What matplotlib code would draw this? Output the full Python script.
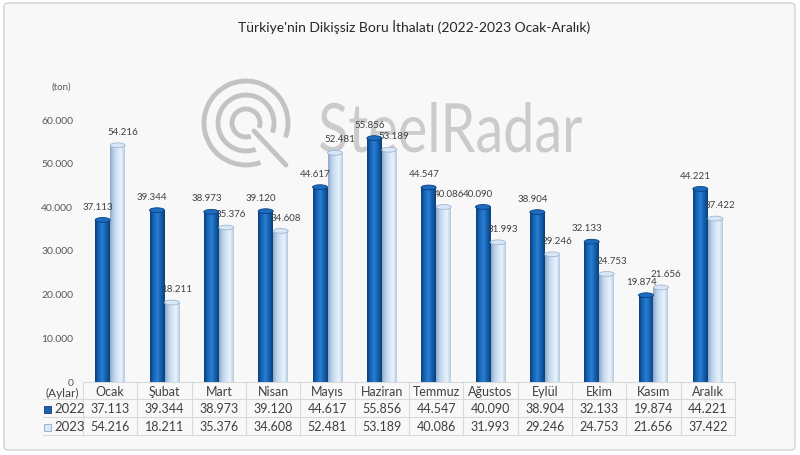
import numpy as np
import matplotlib
matplotlib.use("Agg")
import matplotlib.pyplot as plt
from matplotlib.colors import LinearSegmentedColormap
from matplotlib.patches import Ellipse, Arc, PathPatch, FancyBboxPatch, Rectangle
from matplotlib.textpath import TextPath
from matplotlib.font_manager import FontProperties
from matplotlib.transforms import Affine2D

plt.rcParams["font.family"] = ["Lato", "DejaVu Sans"]

# ----------------------------------------------------------------- data ---
TITLE = "Türkiye'nin Dikişsiz Boru İthalatı (2022-2023 Ocak-Aralık)"
MONTHS = ["Ocak", "Şubat", "Mart", "Nisan", "Mayıs", "Haziran",
          "Temmuz", "Ağustos", "Eylül", "Ekim", "Kasım", "Aralık"]
VALUES_2022 = [37113, 39344, 38973, 39120, 44617, 55856,
               44547, 40090, 38904, 32133, 19874, 44221]
VALUES_2023 = [54216, 18211, 35376, 34608, 52481, 53189,
               40086, 31993, 29246, 24753, 21656, 37422]
YEARS = ["2022", "2023"]
Y_TICKS = [0, 10000, 20000, 30000, 40000, 50000, 60000]
UNIT = "(ton)"
ROW_HEADER = "(Aylar)"
WATERMARK = "SteelRadar"


def fmt(v):
    return f"{v:,}".replace(",", ".")


# --------------------------------------------------------------- layout ---
W, H = 800, 455
AX_L, AX_R, AX_B, AX_T = 83, 735, 382, 120     # plot box in pixels
ROW_LINES = [382, 399, 417, 435]                # table rows in pixels
TXT = "#404040"
GRID = "#d9d9d9"

DARK = LinearSegmentedColormap.from_list(
    "dark", ["#0b3f7c", "#1767ba", "#2b7ed2", "#1260ae", "#0b3f78"])
LIGHT = LinearSegmentedColormap.from_list(
    "light", ["#8ea8c6", "#bcd3ec", "#d6e5f5", "#eaf2fb", "#b3cae2"])

fig = plt.figure(figsize=(W / 100, H / 100), dpi=100, facecolor="white")

# background layer in pixel coordinates (border, watermark, table)
bg = fig.add_axes([0, 0, 1, 1])
bg.set_xlim(0, W)
bg.set_ylim(H, 0)
bg.axis("off")
bg.add_patch(FancyBboxPatch((4, 3), W - 9, H - 8,
                            boxstyle="round,pad=0,rounding_size=4",
                            facecolor="#f8f8f8", edgecolor="#d2d2d2", lw=1))

# watermark logo + text
wm = "#c3c3c3"
cx, cy = 246, 123
for r in (42, 28, 14):
    bg.add_patch(Arc((cx, cy), 2 * r, 2 * r, theta1=70, theta2=380,
                     color=wm, lw=3.5))
bg.plot([cx + 8, cx + 40], [cy + 8, cy + 42], color=wm, lw=3.5,
        solid_capstyle="round")
fp = FontProperties(family="Lato", weight="normal")
tp = TextPath((0, 0), WATERMARK, size=100, prop=fp)
bb = tp.get_extents()
tr = (Affine2D().translate(-bb.x0, 0)
      .scale(262 / bb.width, -50 / bb.y1).translate(320, 152))
bg.add_patch(PathPatch(tr.transform_path(tp), facecolor=wm,
                       edgecolor="none", alpha=0.85))

bg.text(414, 27, TITLE, ha="center", va="center", fontsize=10, color="#262626")

# ------------------------------------------------------------ main axes ---
ax = fig.add_axes([AX_L / W, 1 - AX_B / H, (AX_R - AX_L) / W,
                   (AX_B - AX_T) / H])
ax.patch.set_alpha(0)

BAR_W = 0.276
CAP_H = 1100
grad = np.linspace(0, 1, 64).reshape(1, -1)


def cylinder(x0, h, cmap, top, edge, dx):
    bar = ax.bar(x0, h, BAR_W, align="edge", color="none", lw=0)[0]
    im = ax.imshow(grad, cmap=cmap, extent=[x0, x0 + BAR_W, 0, h],
                   aspect="auto", origin="lower", zorder=2)
    im.set_clip_path(bar)
    ax.add_patch(Ellipse((x0 + BAR_W / 2, h), BAR_W, CAP_H, facecolor=top,
                         edgecolor=edge, lw=0.6, zorder=3))
    ax.annotate(fmt(h), (x0 + BAR_W / 2, h), xytext=(dx, 6),
                textcoords="offset points", ha="center", va="bottom",
                fontsize=7, color=TXT, zorder=4, annotation_clip=False)


for i, (a, b) in enumerate(zip(VALUES_2022, VALUES_2023)):
    cylinder(i - BAR_W, a, DARK, "#1b6cc0", "#0b3f7c", -3.5)
    cylinder(i, b, LIGHT, "#d8e6f5", "#9fb8d4", 3.5)

ax.set_xlim(-0.5, len(MONTHS) - 0.5)
ax.set_ylim(0, Y_TICKS[-1])
ax.set_yticks(Y_TICKS, labels=[fmt(t) for t in Y_TICKS])
ax.tick_params(axis="y", length=0, pad=7, labelsize=7.5, labelcolor="#595959")
ax.set_xticks([])
for s in ax.spines.values():
    s.set_visible(False)

bg.text(61, 87, UNIT, ha="center", va="center", fontsize=7, color="#595959")

# ---------------------------------------------------------- data table ---
col_w = (AX_R - AX_L) / len(MONTHS)
bg.plot([AX_L, AX_R], [ROW_LINES[0]] * 2, color=GRID, lw=0.8)
for y in ROW_LINES[1:]:
    bg.plot([43, AX_R], [y, y], color=GRID, lw=0.8)
for k in range(len(MONTHS) + 1):
    x = AX_L + k * col_w
    bg.plot([x, x], [ROW_LINES[0], ROW_LINES[-1]], color=GRID, lw=0.8)

row_y = [(ROW_LINES[k] + ROW_LINES[k + 1]) / 2 + 1 for k in range(3)]
bg.text(62, row_y[0] + 2, ROW_HEADER, ha="center", va="center",
        fontsize=8.5, color=TXT)
for k, (year, face, edge) in enumerate(zip(YEARS, ["#1a62b0", "#dbe8f6"],
                                           ["#0b3f7c", "#8ea8c6"])):
    y = row_y[k + 1]
    bg.add_patch(Rectangle((44, y - 3.5), 7, 7, facecolor=face,
                           edgecolor=edge, lw=0.6))
    bg.text(54, y, year, ha="left", va="center", fontsize=9.5, color=TXT)

for i, m in enumerate(MONTHS):
    x = AX_L + (i + 0.5) * col_w
    bg.text(x, row_y[0], m, ha="center", va="center", fontsize=9, color=TXT)
    bg.text(x, row_y[1], fmt(VALUES_2022[i]), ha="center", va="center",
            fontsize=9, color=TXT)
    bg.text(x, row_y[2], fmt(VALUES_2023[i]), ha="center", va="center",
            fontsize=9, color=TXT)

fig.savefig("out.png", dpi=100, facecolor=fig.get_facecolor())
